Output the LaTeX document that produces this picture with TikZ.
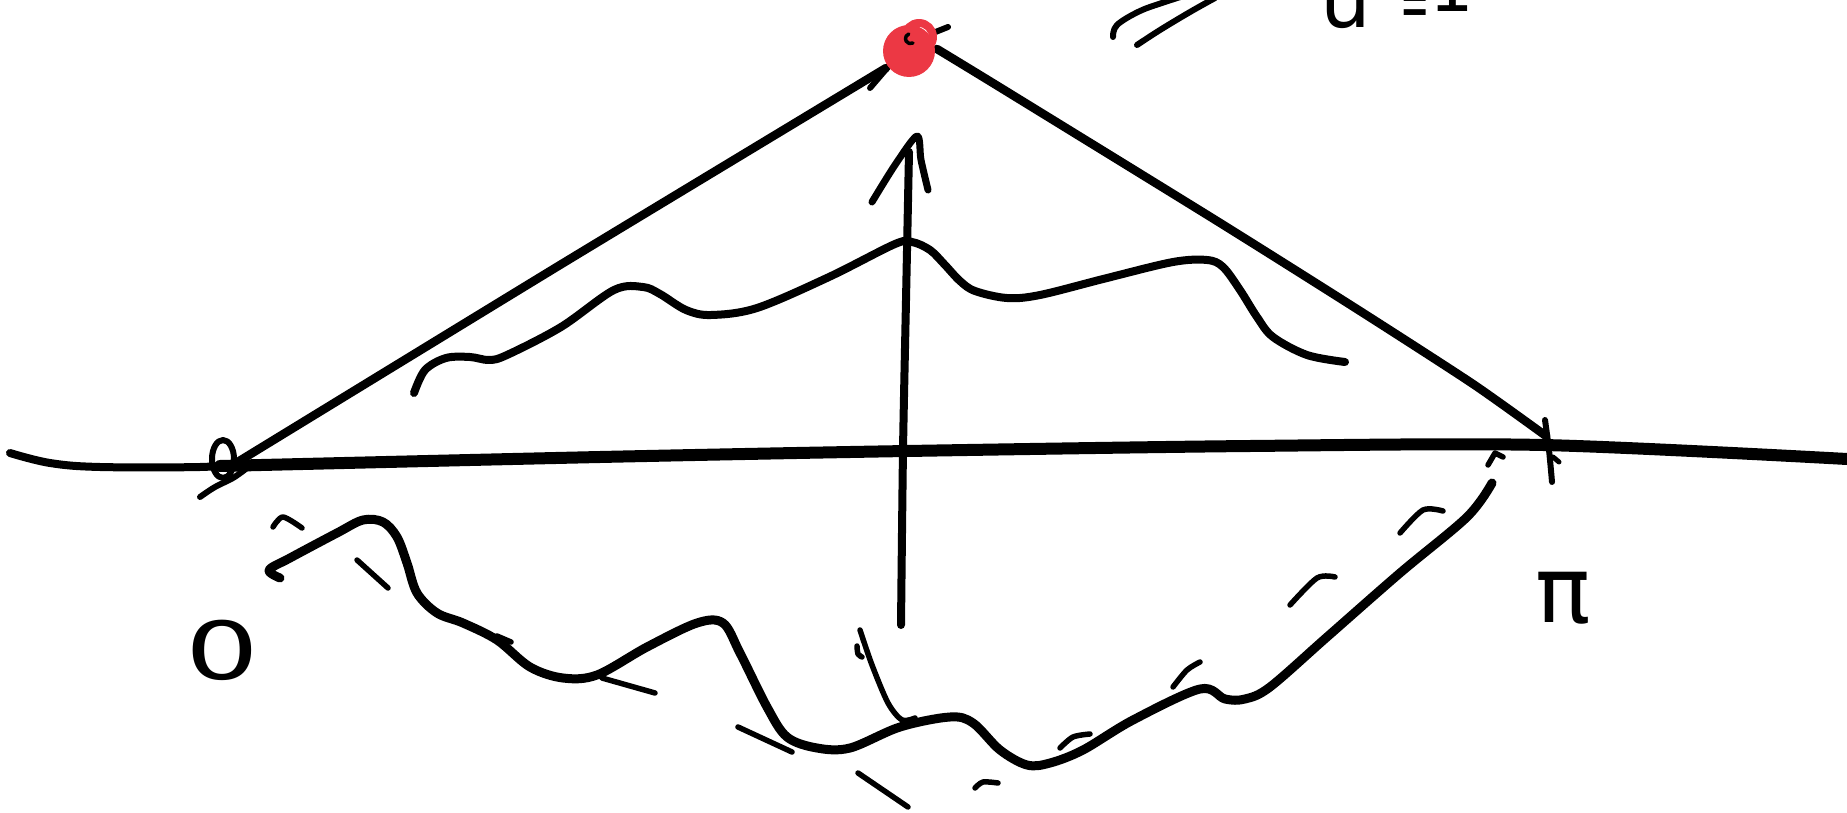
\documentclass[tikz,border=0pt]{standalone}
\usepackage{graphicx}
\usepackage{fontspec}
\newfontfamily\handfont{DejaVu Sans}
\definecolor{dotred}{RGB}{236,56,68}
\begin{document}
\begin{tikzpicture}[x=1pt,y=-1pt,line cap=round,line join=round,
  axisline/.style={line width=12pt},
  thinaxis/.style={line width=8pt},
  side/.style={line width=8.5pt},
  curve/.style={line width=8pt},
  lowcurve/.style={line width=9pt},
  dashstroke/.style={line width=5.5pt},
  lbl/.style={inner sep=0pt}]
\useasboundingbox (0,0) rectangle (1847,813);
% axis
\draw[thinaxis] plot[smooth,tension=0.6] coordinates {(10,453) (50,463) (100,467) (200,467) (236,464)};
\draw[axisline] plot[smooth,tension=0.5] coordinates {(220,466) (600,457) (907,451) (1250,446) (1543,445) (1847,459)};
% small loop at origin and hook
\draw[line width=6pt] (223,459) ellipse [x radius=11, y radius=19];
\draw[line width=6pt] plot[smooth,tension=0.6] coordinates {(200,497) (215,487) (233,478) (247,468)};
% triangle sides
\coordinate (O) at (236,463);
\coordinate (P) at (1546,436);
\coordinate (A) at (886,68);
\draw[side] plot[smooth,tension=0.3] coordinates {(O) (560,265) (A)};
\draw[line width=6pt] (870,88) -- (888,67);
\draw[side] plot[smooth,tension=0.4] coordinates {(937,49) (1001,88) (1217,221) (1360,311) (1473,384) (P)};
\draw[line width=6pt] (933,33) -- (948,27);
% red point
\fill[dotred] (909,51) circle [radius=26];
\draw[dotred,line width=8pt] (919,37) circle [radius=14];
\draw[line width=3.5pt] (913,43) arc[start angle=60,end angle=250,radius=5];
% vertical arrow
\coordinate (base) at (901,625);
\coordinate (tip) at (917,136);
\draw[line width=8pt] plot[smooth,tension=0.4] coordinates {(base) (903,450) (906,300) (909,152)};
\draw[line width=7pt] plot[smooth,tension=0.5] coordinates {(872,202) (895,165) (tip) (921,160) (928,190)};
% upper wavy curve
\draw[curve] plot[smooth,tension=0.55] coordinates {(414,393) (425,370) (446,358) (470,357) (489,360) (507,355) (561,327) (614,290) (643,287) (660,294) (686,310) (711,315) (757,308) (829,277) (895,244) (912,242) (930,250) (945,265) (960,281) (975,291) (1007,298) (1040,295) (1107,278) (1173,262) (1207,260) (1223,267) (1240,290) (1257,317) (1273,337) (1307,355) (1345,362)};
% lower wavy curve
\draw[lowcurve] plot[smooth,tension=0.55] coordinates {(280,578) (269,570) (290,558) (337,533) (363,520) (383,522) (397,537) (407,563) (417,593) (437,613) (463,623) (497,640) (530,667) (563,678) (597,675) (647,647) (697,623) (723,623) (740,653) (767,707) (787,737) (817,748) (850,748) (900,727) (950,717) (973,723) (1000,750) (1027,765) (1050,763) (1083,750) (1133,720) (1200,689) (1225,699) (1245,699) (1270,687) (1327,637) (1400,573) (1467,517) (1492,483)};
% dashed reflection marks
\draw[dashstroke] plot[smooth] coordinates {(273,527) (283,517) (302,528)};
\draw[dashstroke] (357,560) -- (388,588);
\draw[dashstroke] (497,636) -- (511,642);
\draw[dashstroke] (602,678) -- (655,693);
\draw[dashstroke] (738,727) -- (792,752);
\draw[dashstroke] (858,773) -- (908,807);
\draw[dashstroke] plot[smooth] coordinates {(975,788) (983,782) (998,783)};
\draw[dashstroke] plot[smooth] coordinates {(1060,748) (1073,737) (1090,734)};
\draw[dashstroke] plot[smooth] coordinates {(1173,687) (1187,670) (1200,662)};
\draw[dashstroke] plot[smooth] coordinates {(1290,605) (1317,578) (1335,577)};
\draw[dashstroke] plot[smooth] coordinates {(1400,533) (1423,510) (1443,511)};
\draw[dashstroke] (1488,465) -- (1495,453) -- (1503,457);
% stroke below the arrow
\draw[dashstroke] plot[smooth,tension=0.5] coordinates {(860,630) (872,665) (888,703) (902,720) (915,718)};
\draw[dashstroke] plot[smooth] coordinates {(857,646) (858,654) (862,657)};
% tick at pi
\draw[line width=6pt] plot[smooth] coordinates {(1545,420) (1549,450) (1552,482)};
\draw[line width=5pt] (1553,457) -- (1559,462);
% strokes at top
\draw[line width=6pt] plot[smooth,tension=0.6] coordinates {(1113,37) (1117,25) (1140,11) (1168,1) (1190,-6)};
\draw[line width=6pt] plot[smooth,tension=0.6] coordinates {(1137,45) (1160,30) (1190,12) (1215,-2)};
% labels
\node[lbl] (zero) at (222,650) {\handfont\fontsize{80}{80}\selectfont\scalebox{1.45}[1]{0}};
\node[lbl] (pi) at (1563,598) {\handfont\fontsize{92}{92}\selectfont π};
\node[lbl,anchor=base] (u) at (1346,28) {\handfont\fontsize{80}{80}\selectfont u};
\node[lbl,anchor=base] (eq) at (1415,28) {\handfont\fontsize{70}{70}\selectfont\scalebox{0.5}[1]{=}};
\node[lbl,anchor=base] (one) at (1452,12) {\handfont\fontsize{70}{70}\selectfont 1};
\end{tikzpicture}
\end{document}
